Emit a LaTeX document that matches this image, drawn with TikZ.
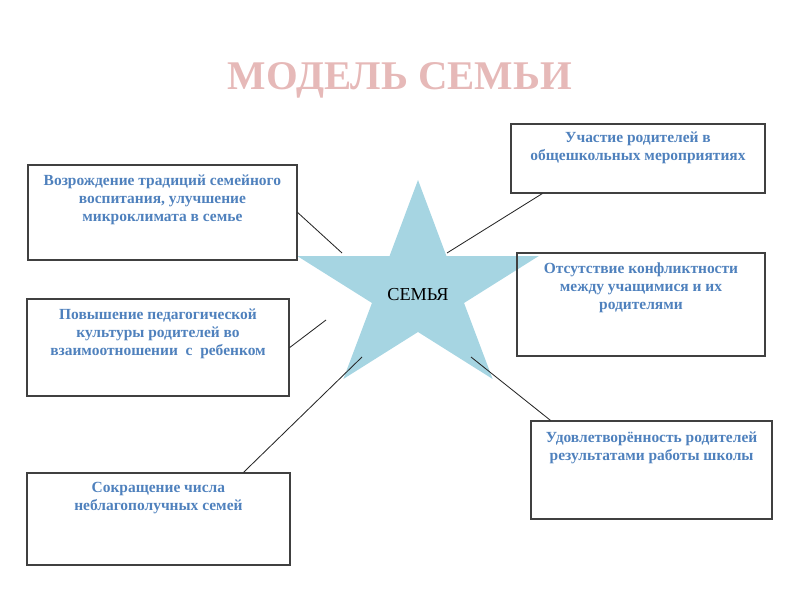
\documentclass[tikz,border=0pt]{standalone}
\usepackage{fontspec}
\setmainfont{Liberation Serif}
\usetikzlibrary{positioning,calc}
\definecolor{titlepink}{RGB}{230,185,184}
\definecolor{textblue}{RGB}{79,129,189}
\definecolor{starblue}{RGB}{166,213,226}
\definecolor{framegray}{RGB}{64,64,64}

\begin{document}
\begin{tikzpicture}[x=1cm,y=1cm,
    card/.style={draw=framegray, line width=0.9pt, inner sep=0pt},
    cardtext/.style={text=textblue, font=\bfseries\fontsize{11}{12.8}\selectfont, align=center, inner sep=0pt},
    link/.style={line width=0.6pt, draw=black!85}]
    \useasboundingbox (0,0) rectangle (20,15);
    \node[text=titlepink, font=\bfseries\fontsize{29}{34}\selectfont] (title) at (10,13.0) {МОДЕЛЬ СЕМЬИ};
    % star
    \begin{scope}[shift={(10.45,7.75)}]
        \fill[starblue] (90:3.175 and 2.75)
            \foreach \k in {1,...,5} { -- ({90+72*\k-36}:1.21 and 1.05) -- ({90+72*\k}:3.175 and 2.75) } -- cycle;
    \end{scope}
    \node[font=\fontsize{13}{15}\selectfont] (fam) at (10.45,7.625) {СЕМЬЯ};
    % boxes
    \node[card, minimum width=6.725cm, minimum height=2.375cm] (b1) at (4.06,9.69) {};
    \node[card, minimum width=6.55cm, minimum height=2.425cm] (b2) at (3.95,6.31) {};
    \node[card, minimum width=6.35cm, minimum height=1.725cm] (b3) at (15.95,11.04) {};
    \node[card, minimum width=6.2cm, minimum height=2.575cm] (b4) at (16.025,7.39) {};
    \node[card, minimum width=6.575cm, minimum height=2.3cm] (b5) at (3.96,2.025) {};
    \node[card, minimum width=6.025cm, minimum height=2.45cm] (b6) at (16.29,3.25) {};
    \node[cardtext, below=0.25cm of b1.north] (t1) {Возрождение традиций семейного\\воспитания, улучшение\\микроклимата в семье};
    \node[cardtext, below=0.25cm of b2.north] (t2) {Повышение педагогической\\культуры родителей во\\взаимоотношении \ с \ ребенком};
    \node[cardtext, below=0.2cm of b3.north] (t3) {Участие родителей в\\общешкольных мероприятиях};
    \node[cardtext, below=0.25cm of b4.north] (t4) {Отсутствие конфликтности\\между учащимися и их\\родителями};
    \node[cardtext, below=0.24cm of b5.north] (t5) {Сокращение числа\\неблагополучных семей};
    \node[cardtext, below=0.27cm of b6.north] (t6) {Удовлетворённость родителей\\результатами работы школы};
    % connectors
    \coordinate (c1) at (8.55,8.675);
    \coordinate (c2) at (11.175,8.675);
    \coordinate (c3) at (8.15,7.0);
    \coordinate (c4) at (9.05,6.075);
    \coordinate (c5) at (11.775,6.075);
    \draw[link] (b1.east) -- (c1);
    \draw[link] ($(b3.south west)+(0.8,0)$) -- (c2);
    \draw[link] (b2.east) -- (c3);
    \draw[link] ($(b5.north east)+(-1.175,0)$) -- (c4);
    \draw[link] (c5) -- ($(b6.north west)+(0.5,0)$);
\end{tikzpicture}
\end{document}
